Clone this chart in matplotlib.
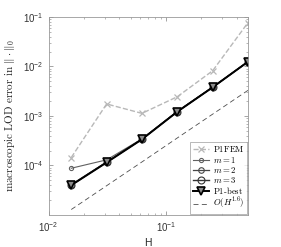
import numpy as np
import matplotlib
matplotlib.use("Agg")
import matplotlib.pyplot as plt

# mesh sizes H = 1/64 ... 1/2
H = [1 / 64, 1 / 32, 1 / 16, 1 / 8, 1 / 4, 1 / 2]

p1fem = [1.45e-4, 1.75e-3, 1.13e-3, 2.45e-3, 8.2e-3, 7.7e-2]
m1 = [8.8e-5, 1.30e-4, 3.45e-4, 1.24e-3, 3.85e-3, 1.26e-2]
m2 = [4.1e-5, 1.18e-4, 3.42e-4, 1.23e-3, 3.82e-3, 1.25e-2]
m3 = [4.0e-5, 1.16e-4, 3.40e-4, 1.23e-3, 3.80e-3, 1.25e-2]
p1best = [4.0e-5, 1.15e-4, 3.38e-4, 1.22e-3, 3.80e-3, 1.25e-2]
ref16 = [1.29e-5, 3.9e-5, 1.18e-4, 3.6e-4, 1.09e-3, 3.3e-3]

plt.rcParams["mathtext.fontset"] = "cm"
plt.rcParams["font.family"] = ["Liberation Sans", "DejaVu Sans"]

fig = plt.figure(figsize=(2.81, 2.47), dpi=100)
ax = fig.add_axes([0.1726, 0.1296, 0.7100, 0.8016])

ax.loglog(H, p1fem, "--x", color="0.72", lw=1.0, ms=4, mew=0.9,
          label=r"$\mathrm{P1FEM}$")
ax.loglog(H, m1, "-o", color="0.38", lw=0.8, ms=3, mfc="none", mew=0.8,
          label=r"$m = 1$")
ax.loglog(H, m2, "-o", color="0.28", lw=0.9, ms=4, mfc="none", mew=0.8,
          label=r"$m = 2$")
ax.loglog(H, m3, "-o", color="0.2", lw=1.0, ms=5, mfc="none", mew=0.8,
          label=r"$m = 3$")
ax.loglog(H, p1best, "-v", color="black", lw=1.4, ms=5.5, mfc="0.55",
          mec="black", mew=1.2, label=r"$\mathrm{P1\text{-}best}$")
ax.loglog(H, ref16, "--", color="0.3", lw=0.6, dashes=(6, 4),
          label=r"$O(H^{1.6})$")

ax.set_xlim(1e-2, 0.5)
ax.set_ylim(1e-5, 1e-1)
ax.set_xticks([1e-2, 1e-1])
ax.set_yticks([1e-4, 1e-3, 1e-2, 1e-1])

ax.tick_params(which="both", direction="in", top=True, right=True,
               color="0.5", labelsize=7, labelcolor="0.2")
ax.tick_params(which="major", length=3, width=0.5)
ax.tick_params(which="minor", length=1.5, width=0.4)
for s in ax.spines.values():
    s.set_color("0.6")
    s.set_linewidth(0.6)

ax.set_xlabel("H", fontsize=7.5, color="0.15", labelpad=3)
ax.set_ylabel(r"$\mathrm{macroscopic\ LOD\ error\ in}\ \|\cdot\|_0$",
              fontsize=8, color="0.15", labelpad=4)

leg = ax.legend(loc="lower right", fontsize=6.3, frameon=True, fancybox=False,
                borderaxespad=0.15, handlelength=1.9, labelspacing=0.02,
                borderpad=0.25, handletextpad=0.4)
leg.get_frame().set_edgecolor("0.6")
leg.get_frame().set_linewidth(0.6)

fig.savefig("out.png", dpi=100)
